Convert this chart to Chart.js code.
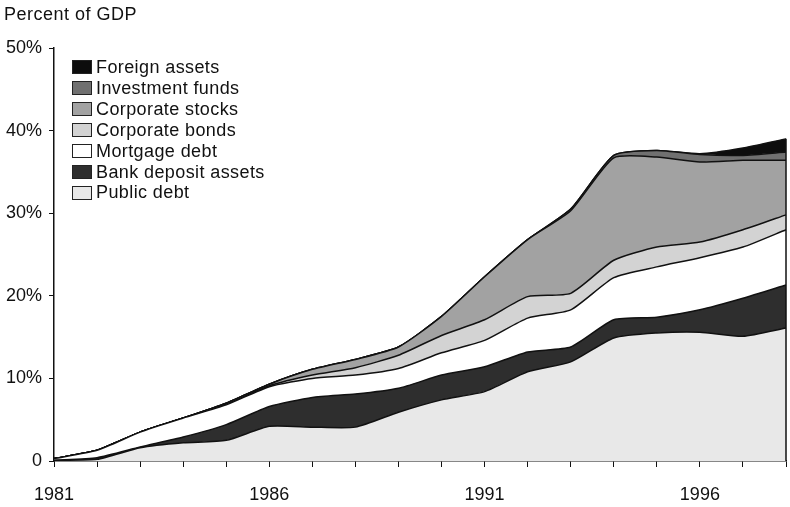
<!DOCTYPE html>
<html>
<head>
<meta charset="utf-8">
<script src="https://cdn.jsdelivr.net/npm/chart.js@4/dist/chart.umd.min.js"></script>
<style>
  body { margin: 0; background: #fff; }
  #wrap { position: relative; width: 790px; height: 507px; font-family: "Liberation Sans", Arial, sans-serif; color: #111; }
  #unit { position: absolute; left: 4px; top: 4px; font-size: 18px; letter-spacing: 0.5px; }
  #legend { position: absolute; left: 72px; top: 57px; font-size: 18px; line-height: 20.9px; letter-spacing: 0.4px; }
  #legend div { display: flex; align-items: center; white-space: nowrap; }
  #legend span.box { display: inline-block; width: 18px; height: 12px; border: 1px solid #222; margin-right: 4px; }
</style>
</head>
<body>
<div id="wrap">
  <canvas id="chart" width="790" height="507"></canvas>
  <div id="unit">Percent of GDP</div>
  <div id="legend"></div>
</div>
<script>
// years on the x axis
const years = ["1981", "1982", "1983", "1984", "1985", "1986", "1987", "1988", "1989",
  "1990", "1991", "1992", "1993", "1994", "1995", "1996", "1997", "1998"];
const yTicks = [0, 10, 20, 30, 40, 50];

// layer thickness, percent of GDP (stacked bottom to top)
const publicDebt = [0.1, 0.2, 1.6, 2.2, 2.5, 4.2, 4.1, 4.1, 5.9, 7.4, 8.4, 10.8, 12.0, 14.9, 15.5, 15.6, 15.1, 16.1];
const bankDeposits = [0, 0.2, 0.1, 0.7, 1.9, 2.4, 3.6, 4.0, 2.9, 3.0, 3.0, 2.4, 1.8, 2.2, 1.9, 2.7, 4.6, 5.2];
const mortgageDebt = [0.2, 0.9, 1.8, 2.3, 2.4, 2.4, 2.3, 2.3, 2.4, 2.7, 3.2, 4.1, 4.5, 5.1, 6.1, 6.3, 6.2, 6.7];
const corpBonds = [0, 0, 0, 0, 0.1, 0.1, 0.4, 0.9, 1.6, 2.1, 2.5, 2.6, 2.0, 2.1, 2.4, 1.9, 2.1, 1.8];
const corpStocks = [0, 0, 0, 0, 0.1, 0.2, 0.7, 1.0, 1.0, 2.3, 5.2, 6.9, 10.0, 12.4, 10.9, 9.7, 8.4, 6.6];
const investFunds = [0, 0, 0, 0, 0, 0, 0, 0, 0, 0, 0, 0, 0.2, 0.3, 0.8, 0.9, 0.6, 1.0];
const foreignAssets = [0, 0, 0, 0, 0, 0, 0, 0, 0, 0, 0, 0, 0, 0, 0, 0.1, 0.9, 1.6];

const seriesNames = ["Public debt", "Bank deposit assets", "Mortgage debt", "Corporate bonds",
  "Corporate stocks", "Investment funds", "Foreign assets"];
const seriesData = [publicDebt, bankDeposits, mortgageDebt, corpBonds, corpStocks, investFunds, foreignAssets];
const seriesColors = ["#e8e8e8", "#2e2e2e", "#ffffff", "#d3d3d3", "#a2a2a2", "#707070", "#0d0d0d"];

const datasets = seriesNames.map((name, i) => ({
  label: name,
  data: seriesData[i],
  backgroundColor: seriesColors[i],
  borderColor: "#111",
  borderWidth: 1.5,
  pointRadius: 0,
  tension: 0.2,
  fill: i === 0 ? "origin" : "-1"
}));

// html legend, top layer first
const legendEl = document.getElementById("legend");
for (let i = seriesNames.length - 1; i >= 0; i--) {
  const row = document.createElement("div");
  row.innerHTML = '<span class="box" style="background:' + seriesColors[i] + '"></span>' + seriesNames[i];
  legendEl.appendChild(row);
}

// vertical edge at the last year, up to the top of the stack
const rightEdge = {
  id: "rightEdge",
  afterDatasetsDraw(chart) {
    const last = years.length - 1;
    const total = seriesData.reduce((s, arr) => s + arr[last], 0);
    const x = chart.scales.x.getPixelForValue(last);
    const ctx = chart.ctx;
    ctx.save();
    ctx.strokeStyle = "#111";
    ctx.lineWidth = 1.5;
    ctx.beginPath();
    ctx.moveTo(x, chart.scales.y.getPixelForValue(0));
    ctx.lineTo(x, chart.scales.y.getPixelForValue(total));
    ctx.stroke();
    ctx.restore();
  }
};

new Chart(document.getElementById("chart").getContext("2d"), {
  type: "line",
  data: { labels: years, datasets: datasets },
  plugins: [rightEdge],
  options: {
    responsive: false,
    animation: false,
    layout: { padding: { top: 48, right: 4, left: 3, bottom: 0 } },
    plugins: { legend: { display: false }, tooltip: { enabled: false } },
    scales: {
      x: {
        offset: false,
        afterFit: (s) => { s.height = 46; s.paddingRight = 0; },
        grid: { drawOnChartArea: false, tickLength: 6, tickColor: "#111", tickWidth: 1 },
        border: { display: true, color: "#111", width: 1.5 },
        ticks: {
          autoSkip: false,
          maxRotation: 0,
          padding: 17,
          color: "#111",
          font: { family: "Liberation Sans", size: 18 },
          callback: (v, i) => (i % 5 === 0 ? years[i] : "")
        }
      },
      y: {
        stacked: true,
        min: 0,
        max: 50,
        afterFit: (s) => { s.width = 51; },
        afterBuildTicks: (s) => { s.ticks = yTicks.map((v) => ({ value: v })); },
        grid: { drawOnChartArea: false, tickLength: 5, tickColor: "#111", tickWidth: 1 },
        border: { display: true, color: "#111", width: 1.5 },
        ticks: {
          crossAlign: "near",
          padding: 7,
          color: "#111",
          font: { family: "Liberation Sans", size: 18 },
          callback: (v) => (v === 0 ? "0" : v + "%")
        }
      }
    }
  }
});
</script>
</body>
</html>
